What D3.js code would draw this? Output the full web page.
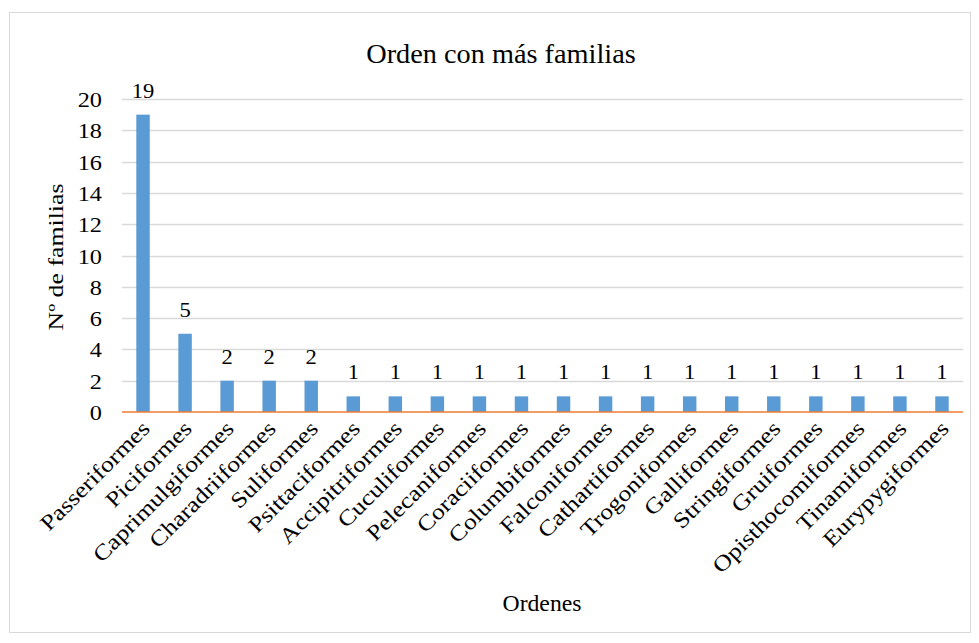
<!DOCTYPE html>
<html><head><meta charset="utf-8">
<script src="https://cdn.jsdelivr.net/npm/d3@7"></script>
<style>body{margin:0;background:#fff}svg{display:block}text{font-family:"Liberation Serif","Times New Roman",serif;fill:#000}</style>
</head><body><svg id="c" width="979" height="643"></svg>
<script>
const categories = ["Passeriformes","Piciformes","Caprimulgiformes","Charadriiformes","Suliformes","Psittaciformes","Accipitriformes","Cuculiformes","Pelecaniformes","Coraciiformes","Columbiformes","Falconiformes","Cathartiformes","Trogoniformes","Galliformes","Stringiformes","Gruiformes","Opisthocomiformes","Tinamiformes","Eurypygiformes"];
const values = [19,5,2,2,2,1,1,1,1,1,1,1,1,1,1,1,1,1,1,1];
const yTicks = [0,2,4,6,8,10,12,14,16,18,20];
const title = "Orden con más familias";
const yTitle = "Nº de familias";
const xTitle = "Ordenes";

const svg = d3.select("#c");
svg.append("rect").attr("x",9.5).attr("y",12.5).attr("width",961).attr("height",620)
  .attr("fill","#fff").attr("stroke","#d9d9d9").attr("stroke-width",1);

const x = d3.scaleBand().domain(categories).range([122,963]).paddingInner(0.68).paddingOuter(0.34);
const y = d3.scaleLinear().domain([0,20]).range([412,99]);

const g = svg.append("g");
g.selectAll("line.grid").data(yTicks.filter(d=>d>0)).join("line")
  .attr("x1",122).attr("x2",963).attr("y1",d=>Math.round(y(d))+0.5).attr("y2",d=>Math.round(y(d))+0.5)
  .attr("stroke","#d9d9d9").attr("stroke-width",1.3);

// y axis tick labels
const yAxis = d3.axisLeft(y).tickValues(yTicks).tickSize(0).tickPadding(0);
const ya = svg.append("g").attr("transform","translate(122,0)").call(yAxis);
ya.attr("font-family",null).attr("font-size",null);
ya.select(".domain").remove();
ya.selectAll(".tick text").attr("font-size","21.5px").attr("fill","#000")
  .attr("x",0).attr("dy",null).attr("y",0)
  .attr("transform","translate(-20,7.5) scale(1.13,1)");

g.selectAll("rect.bar").data(values).join("rect")
  .attr("x",(d,i)=>x(categories[i])).attr("width",x.bandwidth())
  .attr("y",d=>y(d)).attr("height",d=>y(0)-y(d)).attr("fill","#5b9bd5");

g.append("line").attr("x1",122).attr("x2",963).attr("y1",412).attr("y2",412)
  .attr("stroke","#ed7d31").attr("stroke-width",1.5);

g.selectAll("text.lbl").data(values).join("text")
  .attr("transform",(d,i)=>`translate(${x(categories[i])+x.bandwidth()/2},${y(d)-17}) scale(1.05,1)`)
  .attr("text-anchor","middle").attr("font-size","21.5px").text(d=>d);

const xAxis = d3.axisBottom(x).tickSize(0).tickPadding(0);
const xa = svg.append("g").attr("transform","translate(0,412)").call(xAxis);
xa.attr("font-family",null).attr("font-size",null);
xa.select(".domain").remove();
xa.selectAll(".tick text").attr("font-size","22px").attr("fill","#000")
  .attr("text-anchor","end").attr("dy",null).attr("y",0)
  .attr("transform","translate(8,18) rotate(-45) scale(1.17,1)");

svg.append("text").attr("x",501).attr("y",63).attr("text-anchor","middle").attr("font-size","28.3px").text(title);
svg.append("text").attr("transform","translate(63,257) rotate(-90) scale(1.2,1)").attr("text-anchor","middle").attr("font-size","21.5px").text(yTitle);
svg.append("text").attr("x",542).attr("y",611).attr("text-anchor","middle").attr("font-size","23.7px").text(xTitle);
</script></body></html>
